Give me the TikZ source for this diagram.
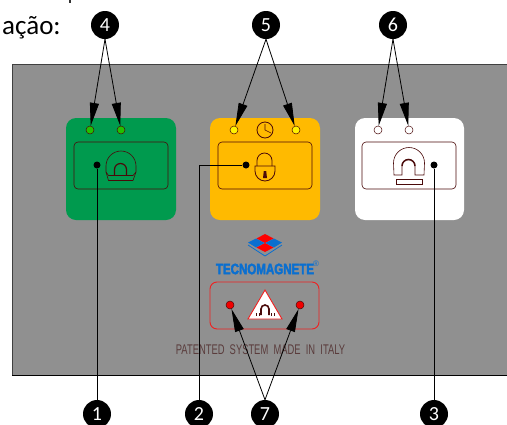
\documentclass[tikz,border=0pt]{standalone}
\usepackage{fontspec}
\setmainfont{Carlito}
\newfontfamily\platefont{Liberation Sans}
\newfontfamily\brandfont[FakeBold=3]{Liberation Sans Bold}
\usetikzlibrary{arrows.meta}
\definecolor{panelgray}{HTML}{909090}
\definecolor{mgreen}{HTML}{009A4E}
\definecolor{myellow}{HTML}{FFBA00}
\definecolor{ledgreen}{HTML}{22C000}
\definecolor{ledyellow}{HTML}{FFF200}
\definecolor{ledred}{HTML}{F00000}
\definecolor{wine}{HTML}{4A0A0A}
\definecolor{logoblue}{HTML}{0A6FD0}
\definecolor{boxred}{HTML}{F02020}
\definecolor{platetext}{HTML}{5A3C3C}
\tikzset{
  badge/.style={circle,fill=black,text=white,inner sep=0pt,minimum size=28pt,font=\fontsize{20}{20}\selectfont},
  led/.style={circle,draw=wine,line width=.5pt,inner sep=0pt,minimum size=8pt},
  anchordot/.style={circle,fill=black,inner sep=0pt,minimum size=7pt},
  innerbox/.style={rounded corners=4pt,draw=wine,line width=.6pt},
  leader/.style={draw=black,line width=.8pt},
  pointer/.style={draw=black,line width=.8pt,-{Triangle[length=23pt,width=9pt]}},
  icon/.style={draw=wine,line width=.6pt},
}
\begin{document}
\begin{tikzpicture}[x=1pt,y=-1pt]
\useasboundingbox (0,0) rectangle (507,424);
\begin{scope}
\clip (0,0) rectangle (507,424);
\node[anchor=base west,inner sep=0pt,font=\fontsize{27}{27}\selectfont] (head) at (2,34) {ação:};
\fill[black!80] (69.3,0) rectangle (70.8,3);
% panel
\fill[panelgray] (12,64) rectangle (507,375);
\draw[black!75,line width=.7pt] (507,64) -- (12,64) -- (12,375);
\draw[black,line width=.9pt] (12,375) -- (507,375);
% modules
\fill[mgreen,rounded corners=10pt] (66,118) rectangle (176,220);
\fill[myellow,rounded corners=10pt] (210,118) rectangle (320,220);
\fill[white,rounded corners=10pt] (355,118) rectangle (464,220);
\draw[innerbox] (74,142) rectangle (168,189);
\draw[innerbox] (218,142) rectangle (312,189);
\draw[innerbox] (362,142) rectangle (456,189);
% green magnet icon
\draw[icon] (106,172) -- (106,166) arc[start angle=180,end angle=360,radius=15] -- (136,172) -- (133,180.5) -- (108.5,180.5) -- cycle;
\draw[icon] (106,172) -- (108.5,175.5) -- (133,175.5) -- (136,172);
\draw[wine,line width=1.2pt] (114.5,175) -- (114.5,169.5) arc[start angle=180,end angle=360,radius=6] -- (126.5,175);
% lock icon
\draw[icon,line width=.8pt] (257,166) -- (257,160.5) arc[start angle=180,end angle=360,radius=7.5] -- (272,166);
\draw[icon,line width=.8pt] (255,166) -- (275,166) -- (275,171) arc[start angle=0,end angle=180,radius=10] -- cycle;
\fill[wine] (263,178) -- (263.8,171) -- (266.2,171) -- (267,178) -- cycle;
% clock icon
\draw[icon,line width=.8pt] (265,130) circle[radius=8];
\draw[icon] (265,124) -- (265,130) -- (271,133);
% white magnet icon
\draw[icon] (394,175) -- (393.5,163) arc[start angle=180,end angle=360,radius=15.5] -- (424,175) -- (415,175) -- (415,166) arc[start angle=0,end angle=-180,radius=6.5] -- (402,175) -- cycle;
\draw[wine,line width=1.5pt] (402,166) arc[start angle=180,end angle=360,radius=6.5];
\draw[icon] (396,179) rectangle (422,184);
% logo
\draw[logoblue,line width=.8pt] (248,245) -- (265,256) -- (282,245);
\fill[red] (265,234) -- (273.5,238.5) -- (265,243) -- (256.5,238.5) -- cycle;
\fill[red] (265,243) -- (273.5,247.5) -- (265,252) -- (256.5,247.5) -- cycle;
\fill[logoblue] (248,242.5) -- (256,238.5) -- (264.5,243) -- (256,247.5) -- cycle;
\fill[logoblue] (282,242.5) -- (274,238.5) -- (265.5,243) -- (274,247.5) -- cycle;
\node[inner sep=0pt,text=logoblue,font=\brandfont\fontsize{15}{15}\selectfont,xscale=.77] (brand) at (265,269) {TECNOMAGNETE};
\node[inner sep=0pt,text=logoblue,font=\platefont\fontsize{8}{8}\selectfont] (reg) at (316,264) {®};
% warning box
\draw[boxred,rounded corners=7pt,line width=.9pt] (210,282) rectangle (319,329);
\fill[white,draw=boxred,line width=.9pt] (265,290) -- (282,319) -- (248,319) -- cycle;
\draw[wine,line width=1.6pt] (261,315) -- (261,309) arc[start angle=180,end angle=360,radius=4] -- (269,315);
\foreach \x in {256,258.5,271,273.5} \fill[wine] (\x,313) rectangle (\x+1.4,316);
\node[inner sep=0pt,text=platetext,font=\platefont\fontsize{14}{14}\selectfont,xscale=.67] (plate) at (260.5,350) {PATENTED\ \ SYSTEM\ \ MADE\ \ IN\ \ ITALY};
% leds
\node[led,fill=ledgreen] (g1) at (90,130) {};
\node[led,fill=ledgreen] (g2) at (121,130) {};
\node[led,fill=ledyellow] (y1) at (234,130) {};
\node[led,fill=ledyellow] (y2) at (296,130) {};
\node[led,fill=white] (w1) at (378,130) {};
\node[led,fill=white] (w2) at (409,130) {};
\node[led,fill=ledred] (r1) at (230,305) {};
\node[led,fill=ledred] (r2) at (300,305) {};
% anchor dots
\node[anchordot] (d1) at (97,165) {};
\node[anchordot] (d2) at (246,165) {};
\node[anchordot] (d3) at (434,165) {};
% badges
\node[badge] (b4) at (105,25) {4};
\node[badge] (b5) at (266,25) {5};
\node[badge] (b6) at (393,25) {6};
\node[badge] (b1) at (97,414) {1};
\node[badge] (b2) at (199,414) {2};
\node[badge] (b7) at (265,414) {7};
\node[badge] (b3) at (434,414) {3};
% connectors
\draw[pointer] (b4.south) -- (g1);
\draw[pointer] (b4.south) -- (g2);
\draw[pointer] (b5.south) -- (y1);
\draw[pointer] (b5.south) -- (y2);
\draw[pointer] (b6.south) -- (w1);
\draw[pointer] (b6.south) -- (w2);
\draw[pointer] (b7.north) -- (r1);
\draw[pointer] (b7.north) -- (r2);
\draw[leader] (b1.north) -- (d1);
\draw[leader] (b2.north) |- (d2);
\draw[leader] (b3.north) -- (d3);
\end{scope}
\end{tikzpicture}
\end{document}
